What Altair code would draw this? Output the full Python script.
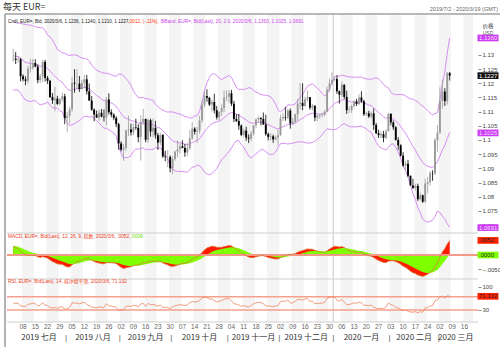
import altair as alt
import numpy as np
import pandas as pd

# ---------------- data ----------------
first_day = "2019-07-02"
axis_end = "2020-03-19"

opens = [
    1.1285, 1.1287, 1.1283, 1.1285, 1.1225, 1.1214, 1.1209, 1.1252, 1.1255, 1.1271, 1.1259, 1.1211, 1.1224, 1.1276, 1.1219, 1.1209, 1.1152, 1.1140, 1.1146, 1.1127, 1.1144, 1.1154,
    1.1077, 1.1085, 1.1108, 1.1202, 1.1199, 1.1199, 1.1180, 1.1201, 1.1214, 1.1172, 1.1139, 1.1107, 1.1090, 1.1079, 1.1096, 1.1082, 1.1080, 1.1143, 1.1098, 1.1089, 1.1078, 1.1056,
    1.0988, 1.0966, 1.0973, 1.1034, 1.1037, 1.1027, 1.1045, 1.1043, 1.1010, 1.1064, 1.1074, 1.1001, 1.1070, 1.1030, 1.1043, 1.1017, 1.0991, 1.1018, 1.0942, 1.0940, 1.0940,
    1.0900, 1.0933, 1.0959, 1.0967, 1.0978, 1.0972, 1.0956, 1.0971, 1.1006, 1.1040, 1.1029, 1.1033, 1.1069, 1.1124, 1.1155, 1.1149, 1.1125, 1.1134, 1.1105, 1.1080, 1.1100, 1.1113, 1.1150,
    1.1152, 1.1165, 1.1128, 1.1074, 1.1067, 1.1051, 1.1018, 1.1033, 1.1008, 1.1005, 1.1022, 1.1052, 1.1072, 1.1078, 1.1074, 1.1055, 1.1021, 1.1011, 1.1013, 1.1002, 1.1009,
    1.1017, 1.1077, 1.1081, 1.1079, 1.1104, 1.1058, 1.1064, 1.1091, 1.1128, 1.1131, 1.1120, 1.1143, 1.1151, 1.1114, 1.1121, 1.1079, 1.1085, 1.1088, 1.1090, 1.1100, 1.1178, 1.1200,
    1.1212, 1.1215, 1.1172, 1.1160, 1.1195, 1.1152, 1.1105, 1.1105, 1.1120, 1.1136, 1.1127, 1.1150, 1.1137, 1.1091, 1.1094, 1.1083, 1.1094, 1.1053, 1.1024, 1.1017, 1.1021, 1.1008, 1.1031,
    1.1092, 1.1062, 1.1045, 1.1000, 1.0981, 1.0945, 1.0910, 1.0916, 1.0874, 1.0840, 1.0831, 1.0838, 1.0791, 1.0805, 1.0782, 1.0846, 1.0851, 1.0883, 1.0882, 1.0999,
    1.1026, 1.1138, 1.1171, 1.1137, 1.1236,
]
highs = [
    1.1322, 1.1311, 1.1295, 1.1290, 1.1232, 1.1225, 1.1262, 1.1286, 1.1286, 1.1285, 1.1267, 1.1233, 1.1282, 1.1283, 1.1226, 1.1212, 1.1166, 1.1188, 1.1156, 1.1148, 1.1167, 1.1163,
    1.1099, 1.1117, 1.1222, 1.1250, 1.1249, 1.1226, 1.1212, 1.1230, 1.1230, 1.1199, 1.1155, 1.1112, 1.1104, 1.1106, 1.1109, 1.1108, 1.1152, 1.1165, 1.1108, 1.1094, 1.1084, 1.1061,
    1.0995, 1.0985, 1.1035, 1.1085, 1.1058, 1.1058, 1.1075, 1.1055, 1.1087, 1.1110, 1.1076, 1.1075, 1.1075, 1.1075, 1.1068, 1.1025, 1.1025, 1.1020, 1.0962, 1.0965, 1.0946,
    1.0943, 1.0962, 1.0999, 1.0988, 1.0999, 1.0986, 1.0990, 1.1035, 1.1063, 1.1045, 1.1046, 1.1085, 1.1139, 1.1172, 1.1179, 1.1152, 1.1142, 1.1163, 1.1120, 1.1101, 1.1125, 1.1175, 1.1175,
    1.1175, 1.1177, 1.1138, 1.1091, 1.1092, 1.1055, 1.1040, 1.1047, 1.1020, 1.1032, 1.1052, 1.1077, 1.1083, 1.1080, 1.1097, 1.1089, 1.1026, 1.1024, 1.1019, 1.1015, 1.1037,
    1.1090, 1.1096, 1.1117, 1.1110, 1.1111, 1.1078, 1.1093, 1.1145, 1.1200, 1.1200, 1.1153, 1.1175, 1.1152, 1.1128, 1.1122, 1.1093, 1.1090, 1.1095, 1.1106, 1.1188, 1.1217, 1.1239,
    1.1225, 1.1228, 1.1175, 1.1206, 1.1196, 1.1174, 1.1118, 1.1125, 1.1140, 1.1145, 1.1161, 1.1172, 1.1142, 1.1100, 1.1103, 1.1100, 1.1111, 1.1060, 1.1036, 1.1030, 1.1032, 1.1038, 1.1096,
    1.1095, 1.1069, 1.1049, 1.1010, 1.0985, 1.0957, 1.0925, 1.0930, 1.0874, 1.0863, 1.0846, 1.0846, 1.0814, 1.0807, 1.0863, 1.0870, 1.0891, 1.0893, 1.1007, 1.1053,
    1.1186, 1.1213, 1.1183, 1.1240, 1.1240,
]
lows = [
    1.1276, 1.1268, 1.1274, 1.1207, 1.1207, 1.1193, 1.1200, 1.1238, 1.1248, 1.1257, 1.1200, 1.1201, 1.1204, 1.1206, 1.1198, 1.1148, 1.1127, 1.1101, 1.1124, 1.1122, 1.1135, 1.1056,
    1.1027, 1.1058, 1.1100, 1.1167, 1.1180, 1.1170, 1.1178, 1.1183, 1.1160, 1.1139, 1.1103, 1.1066, 1.1078, 1.1068, 1.1080, 1.1065, 1.1052, 1.1090, 1.1080, 1.1070, 1.1045, 1.0965,
    1.0960, 1.0926, 1.0962, 1.1015, 1.1016, 1.1017, 1.1036, 1.0992, 1.0927, 1.1053, 1.0992, 1.0990, 1.1012, 1.1010, 1.1005, 1.0965, 1.0981, 1.0937, 1.0925, 1.0904, 1.0886,
    1.0879, 1.0927, 1.0940, 1.0953, 1.0971, 1.0941, 1.0943, 1.0965, 1.1000, 1.1019, 1.0990, 1.1022, 1.1061, 1.1115, 1.1135, 1.1120, 1.1101, 1.1094, 1.1072, 1.1069, 1.1086, 1.1098, 1.1137,
    1.1131, 1.1120, 1.1063, 1.1064, 1.1036, 1.1014, 1.1012, 1.0997, 1.0989, 1.0995, 1.1015, 1.1041, 1.1060, 1.1052, 1.1054, 1.1015, 1.0999, 1.0999, 1.0990, 1.0999, 1.0981,
    1.1015, 1.1067, 1.1068, 1.1073, 1.1040, 1.1055, 1.1060, 1.1068, 1.1108, 1.1105, 1.1117, 1.1135, 1.1107, 1.1104, 1.1066, 1.1067, 1.1075, 1.1080, 1.1084, 1.1099, 1.1170, 1.1194,
    1.1207, 1.1163, 1.1128, 1.1150, 1.1145, 1.1092, 1.1095, 1.1095, 1.1115, 1.1120, 1.1123, 1.1131, 1.1085, 1.1086, 1.1078, 1.1075, 1.1036, 1.1021, 1.1007, 1.1007, 1.0992, 1.1003, 1.1030,
    1.1052, 1.1036, 1.0998, 1.0965, 1.0942, 1.0905, 1.0892, 1.0869, 1.0838, 1.0827, 1.0822, 1.0785, 1.0786, 1.0778, 1.0779, 1.0812, 1.0838, 1.0856, 1.0877, 1.0959,
    1.1022, 1.1110, 1.1120, 1.1125, 1.1210,
]
closes = [
    1.1287, 1.1283, 1.1285, 1.1225, 1.1214, 1.1209, 1.1252, 1.1255, 1.1271, 1.1259, 1.1211, 1.1224, 1.1276, 1.1219, 1.1209, 1.1152, 1.1140, 1.1146, 1.1127, 1.1144, 1.1154, 1.1077,
    1.1085, 1.1108, 1.1202, 1.1199, 1.1199, 1.1180, 1.1201, 1.1214, 1.1172, 1.1139, 1.1107, 1.1090, 1.1079, 1.1096, 1.1082, 1.1080, 1.1143, 1.1098, 1.1089, 1.1078, 1.1056, 1.0988,
    1.0966, 1.0973, 1.1034, 1.1037, 1.1027, 1.1045, 1.1043, 1.1010, 1.1064, 1.1074, 1.1001, 1.1070, 1.1030, 1.1043, 1.1017, 1.0991, 1.1018, 1.0942, 1.0940, 1.0940, 1.0900,
    1.0933, 1.0959, 1.0967, 1.0978, 1.0972, 1.0956, 1.0971, 1.1006, 1.1040, 1.1029, 1.1033, 1.1069, 1.1124, 1.1155, 1.1149, 1.1125, 1.1134, 1.1105, 1.1080, 1.1100, 1.1113, 1.1150, 1.1152,
    1.1165, 1.1128, 1.1074, 1.1067, 1.1051, 1.1018, 1.1033, 1.1008, 1.1005, 1.1022, 1.1052, 1.1072, 1.1078, 1.1074, 1.1055, 1.1021, 1.1011, 1.1013, 1.1002, 1.1009, 1.1017,
    1.1077, 1.1081, 1.1079, 1.1104, 1.1058, 1.1064, 1.1091, 1.1128, 1.1131, 1.1120, 1.1143, 1.1151, 1.1114, 1.1121, 1.1079, 1.1085, 1.1088, 1.1090, 1.1100, 1.1178, 1.1200, 1.1212,
    1.1215, 1.1172, 1.1160, 1.1195, 1.1152, 1.1105, 1.1105, 1.1120, 1.1136, 1.1127, 1.1150, 1.1137, 1.1091, 1.1094, 1.1083, 1.1094, 1.1053, 1.1024, 1.1017, 1.1021, 1.1008, 1.1031, 1.1092,
    1.1062, 1.1045, 1.1000, 1.0981, 1.0945, 1.0910, 1.0916, 1.0874, 1.0840, 1.0831, 1.0838, 1.0791, 1.0805, 1.0782, 1.0846, 1.0851, 1.0883, 1.0882, 1.0999, 1.1026,
    1.1138, 1.1171, 1.1137, 1.1236, 1.1227,
]
# closes before the visible window (May-June 2019), only used to warm up the indicators
warmup_closes = [
    1.1193, 1.1171, 1.1200, 1.1197, 1.1190, 1.1192, 1.1215, 1.1233, 1.1223, 1.1206, 1.1203, 1.1174,
    1.1157, 1.1165, 1.1161, 1.1150, 1.1181, 1.1204, 1.1192, 1.1191, 1.1130, 1.1132, 1.1169,
    1.1241, 1.1253, 1.1224, 1.1276, 1.1333, 1.1310, 1.1327, 1.1290, 1.1275, 1.1210, 1.1219, 1.1194,
    1.1227, 1.1294, 1.1369, 1.1399, 1.1367, 1.1369, 1.1372, 1.1372, 1.1286,
]

price_ticks = [1.07, 1.075, 1.08, 1.085, 1.09, 1.095, 1.1, 1.105, 1.11, 1.115, 1.12, 1.125, 1.13]
macd_ticks = [-0.005]
rsi_ticks = [30, 100]
rsi_levels = [70, 30]
month_names = {7: "七月", 8: "八月", 9: "九月", 10: "十月", 11: "十一月", 12: "十二月", 1: "一月", 2: "二月", 3: "三月"}

last_values = [1.1360, 1.1227, 1.1025, 1.0691]
last_labels = ["1.1360", "1.1227", "1.1025", "1.0691"]
last_fills = ["#cc3cf2", "#111111", "#cc3cf2", "#cc3cf2"]
last_text = ["#f6dcff", "#ffffff", "#f6dcff", "#f6dcff"]
macd_box_values = [0.0052, 0.0]
macd_box_labels = [".0052", ".0000"]
macd_box_fills = ["#ff2200", "#80ff00"]
rsi_box_values = [71.132]
rsi_box_labels = ["71.132"]

title_text = "每天 EUR="
range_text = "2019/7/2 - 2020/3/19 (GMT)"
legend_black = "Cndl, EUR=, Bid, 2020/3/6, 1.1236, 1.1240, 1.1210, 1.1227,"
legend_red = "-.0012, (-.11%),"
legend_mag = "BBand, EUR=, Bid(Last), 20, 2.0, 2020/3/6, 1.1360, 1.1025, 1.0691"
macd_legend_red = "MACD, EUR=, Bid(Last), 12, 26, 9, 指数, 2020/3/6, .0052,"
macd_legend_green = ".0000"
rsi_legend = "RSI, EUR=, Bid(Last), 14, 威尔德平滑, 2020/3/6, 71.132"

# ---------------- tables ----------------
days = pd.bdate_range(first_day, axis_end)
n_axis = len(days)
n = len(closes)
df = pd.DataFrame({"i": np.arange(n), "open": opens, "high": highs, "low": lows, "close": closes})
df["dir"] = np.where(df["close"] >= df["open"], "up", "down")
df["zero"] = 0.0

ca = np.array(warmup_closes + closes)
k = len(warmup_closes)
mid = pd.Series(ca).ewm(span=20, adjust=False).mean().to_numpy()
dev = np.array([np.sqrt(np.mean((ca[max(0, t - 19):t + 1] - mid[t]) ** 2)) for t in range(len(ca))])
df["mid"] = mid[k:]
df["upper"] = (mid + 2 * dev)[k:]
df["lower"] = (mid - 2 * dev)[k:]
ema12 = pd.Series(ca).ewm(span=12, adjust=False).mean()
ema26 = pd.Series(ca).ewm(span=26, adjust=False).mean()
macd = ema12 - ema26
signal = macd.ewm(span=9, adjust=False).mean()
df["macd"] = macd.to_numpy()[k:]
df["signal"] = signal.to_numpy()[k:]
delta = np.diff(ca, prepend=ca[0])
gain = pd.Series(np.clip(delta, 0, None)).ewm(alpha=1 / 14, adjust=False).mean()
loss = pd.Series(np.clip(-delta, 0, None)).ewm(alpha=1 / 14, adjust=False).mean()
df["rsi"] = (100 - 100 / (1 + gain / loss)).to_numpy()[k:]

all_idx = np.arange(n_axis)
week_no = np.asarray((days - pd.Timestamp("2019-07-01")).days // 7)
stripes = pd.DataFrame({"i": all_idx, "w": week_no}).groupby("w")["i"].agg(["min", "max"]).reset_index()
stripes = stripes[stripes["w"] % 2 == 1]
stripes = pd.DataFrame({"x0": stripes["min"] - 0.5, "x1": stripes["max"] + 0.5})

mon = pd.DataFrame({"i": all_idx[days.weekday == 0], "lab": days[days.weekday == 0].strftime("%d")})
mdf = pd.DataFrame({"i": all_idx, "y": days.year, "m": days.month})
months = mdf.groupby(["y", "m"])["i"].agg(["min", "max"]).reset_index()
months["c"] = (months["min"] + months["max"]) / 2
months["lab"] = [f"{y} {month_names[m]}" for y, m in zip(months["y"], months["m"])]
seps = pd.DataFrame({"b": months["min"].iloc[1:] - 0.5})
year_line = pd.DataFrame({"b": [all_idx[days.year == 2020][0] - 0.5]})

boxes = pd.DataFrame({"v": last_values, "lab": last_labels, "fill": last_fills, "tc": last_text})
mboxes = pd.DataFrame({"v": macd_box_values, "lab": macd_box_labels, "fill": macd_box_fills})
rboxes = pd.DataFrame({"v": rsi_box_values, "lab": rsi_box_labels})
rlev = pd.DataFrame({"v": rsi_levels})
one = pd.DataFrame({"k": [0]})

# ---------------- layout ----------------
W, H = 471, 307
MAIN_BOT, MACD_BOT = 218, 264
FONT = "Liberation Sans, Noto Sans CJK SC"
CJK = "Noto Sans CJK SC"

xscale = alt.Scale(domain=[-0.5, n_axis - 0.5], nice=False, zero=False)
pscale = alt.Scale(domain=[1.06718, 1.14411], range=[MAIN_BOT, 0], nice=False, zero=False)
mscale = alt.Scale(domain=[-0.008571, 0.007857], range=[MACD_BOT, MAIN_BOT], nice=False, zero=False)
rscale = alt.Scale(domain=[-6.1, 123.2], range=[H, MACD_BOT], nice=False, zero=False)

X = alt.X("i:Q", scale=xscale, axis=None)

axis_common = dict(orient="right", title=None, labelFontSize=6, labelColor="#444", labelFont=FONT,
                   tickSize=3, tickColor="#888", domain=False, labelPadding=1, gridColor="#e2e2e2")
price_axis = alt.Axis(values=price_ticks, format=".3~f", **axis_common)
macd_axis = alt.Axis(values=macd_ticks, labelExpr="replace(format(datum.value, '.4f'), '0.', '.')", **axis_common)
rsi_axis = alt.Axis(values=rsi_ticks, format="d", grid=False, **axis_common)


def txt(s, x, y, size, color, align="left", font=FONT, weight="normal"):
    return alt.Chart(one).mark_text(text=s, align=align, baseline="middle", fontSize=size, color=color,
                                    font=font, fontWeight=weight).encode(x=alt.value(x), y=alt.value(y))


def hrule(y, x0, x1, color, w=1):
    return alt.Chart(one).mark_rule(color=color, strokeWidth=w).encode(
        x=alt.value(x0), x2=alt.value(x1), y=alt.value(y))


stripe_layer = alt.Chart(stripes).mark_rect(color="#000000", opacity=0.045).encode(
    x=alt.X("x0:Q", scale=xscale, axis=None), x2="x1:Q", y=alt.value(0), y2=alt.value(H))

yearline_layer = alt.Chart(year_line).mark_rule(color="#c8c8c8", strokeWidth=1).encode(
    x=alt.X("b:Q", scale=xscale, axis=None), y=alt.value(0), y2=alt.value(H))

color_dir = alt.Color("dir:N", scale=alt.Scale(domain=["up", "down"], range=["#9a9a9a", "#000000"]), legend=None)

wick = alt.Chart(df).mark_rule(strokeWidth=0.8, clip=True).encode(
    x=X, y=alt.Y("low:Q", scale=pscale, axis=price_axis), y2="high:Q", color=color_dir)
body = alt.Chart(df).mark_bar(size=1.9, clip=True).encode(
    x=X, y=alt.Y("open:Q", scale=pscale, axis=None), y2="close:Q", color=color_dir)

bb = alt.Chart(df).transform_fold(["upper", "mid", "lower"], as_=["band", "val"]).mark_line(
    color="#d68ef2", strokeWidth=1, clip=True).encode(
    x=X, y=alt.Y("val:Q", scale=pscale, axis=None), detail="band:N")

box_shape = "M-1,-0.32H1V0.32H-1Z"
pbox = alt.Chart(boxes).mark_point(shape=box_shape, filled=True, opacity=1, size=441).encode(
    x=alt.value(481), y=alt.Y("v:Q", scale=pscale, axis=None), fill=alt.Fill("fill:N", scale=None),
    stroke=alt.value(None))
ptext = alt.Chart(boxes).mark_text(align="left", baseline="middle", fontSize=6, font=FONT).encode(
    x=alt.value(472), y=alt.Y("v:Q", scale=pscale, axis=None), text="lab:N", color=alt.Color("tc:N", scale=None))

# MACD
macd_red = alt.Chart(df).mark_area(color="#ff1a00", clip=True).encode(
    x=X, y=alt.Y("macd:Q", scale=mscale, axis=macd_axis), y2="zero:Q")
macd_green = alt.Chart(df).mark_area(color="#80ff00", clip=True).encode(
    x=X, y=alt.Y("signal:Q", scale=mscale, axis=None), y2="zero:Q")
macd_zero = alt.Chart(df).mark_rule(color="#f29a85", strokeWidth=1).encode(
    x=alt.value(0), x2=alt.value(W), y=alt.Y("zero:Q", scale=mscale, axis=None))
macd_line = alt.Chart(df).mark_line(color="#d9783a", strokeWidth=0.8, clip=True).encode(
    x=X, y=alt.Y("macd:Q", scale=mscale, axis=None))
mbox = alt.Chart(mboxes).mark_point(shape=box_shape, filled=True, opacity=1, size=441).encode(
    x=alt.value(481), y=alt.Y("v:Q", scale=mscale, axis=None), fill=alt.Fill("fill:N", scale=None),
    stroke=alt.value(None))
mtext = alt.Chart(mboxes).mark_text(align="left", baseline="middle", fontSize=6, font=FONT, color="#222").encode(
    x=alt.value(472), y=alt.Y("v:Q", scale=mscale, axis=None), text="lab:N")

# RSI
rsi_lv = alt.Chart(rlev).mark_rule(color="#f5a08c", strokeWidth=1.4).encode(
    x=alt.value(0), x2=alt.value(W), y=alt.Y("v:Q", scale=rscale, axis=rsi_axis))
rsi_line = alt.Chart(df).mark_line(color="#f2825e", strokeWidth=0.8, clip=True).encode(
    x=X, y=alt.Y("rsi:Q", scale=rscale, axis=None))
rbox = alt.Chart(rboxes).mark_point(shape=box_shape, filled=True, opacity=1, size=441, fill="#ff2200").encode(
    x=alt.value(481), y=alt.Y("v:Q", scale=rscale, axis=None), stroke=alt.value(None))
rtext = alt.Chart(rboxes).mark_text(align="left", baseline="middle", fontSize=6, font=FONT, color="#222").encode(
    x=alt.value(472), y=alt.Y("v:Q", scale=rscale, axis=None), text="lab:N")

# x axis labels
day_text = alt.Chart(mon).mark_text(fontSize=6.5, color="#666", font=FONT, baseline="middle").encode(
    x=alt.X("i:Q", scale=xscale, axis=None), y=alt.value(312), text="lab:N")
month_text = alt.Chart(months).mark_text(fontSize=8, color="#333", font=CJK, baseline="middle").encode(
    x=alt.X("c:Q", scale=xscale, axis=None), y=alt.value(323), text="lab:N")
sep_text = alt.Chart(seps).mark_text(text="|", fontSize=8, color="#555", font=FONT, baseline="middle").encode(
    x=alt.X("b:Q", scale=xscale, axis=None), y=alt.value(323))

layers = [
    stripe_layer, yearline_layer,
    hrule(MAIN_BOT, 0, W, "#cfcfcf"), hrule(MACD_BOT, 0, W, "#cfcfcf"), hrule(H, 0, W, "#cfcfcf"),
    bb, wick, body,
    macd_red, macd_green, macd_zero, macd_line,
    rsi_lv, rsi_line,
    pbox, ptext, mbox, mtext, rbox, rtext,
    day_text, month_text, sep_text,
    hrule(-1, -2, 493, "#a0a0a0", 1.5),
    alt.Chart(one).mark_rule(color="#9a9a9a", strokeWidth=1.5).encode(x=alt.value(-2), y=alt.value(-1), y2=alt.value(332)),
    txt(title_text, -4, -8, 9, "#333", font=CJK),
    txt(range_text, 491, -6, 5.5, "#666", align="right"),
    txt("价格", 481, 11, 5.5, "#333", align="center", font=CJK),
    txt("USD", 481, 18, 5, "#555", align="center"),
    txt(legend_black, 1, 7, 4.6, "#222"),
    txt(legend_red, 120, 7, 4.6, "#ff3300"),
    txt(legend_mag, 154, 7, 4.8, "#cc44ee"),
    txt(macd_legend_red, 1, 222, 4.8, "#ee3b1b"),
    txt(macd_legend_green, 124, 222, 4.8, "#66dd00"),
    txt(rsi_legend, 1, 267, 4.8, "#ee4422"),
]

chart = alt.layer(*layers).resolve_scale(y="independent").properties(
    width=W, height=H,
    autosize=alt.AutoSizeParams(type="none"),
    padding={"left": 7, "top": 15, "right": 22, "bottom": 25},
    background="white",
).configure_view(stroke=None)

chart.save("out.html", embed_options={"renderer": "svg", "actions": False})
